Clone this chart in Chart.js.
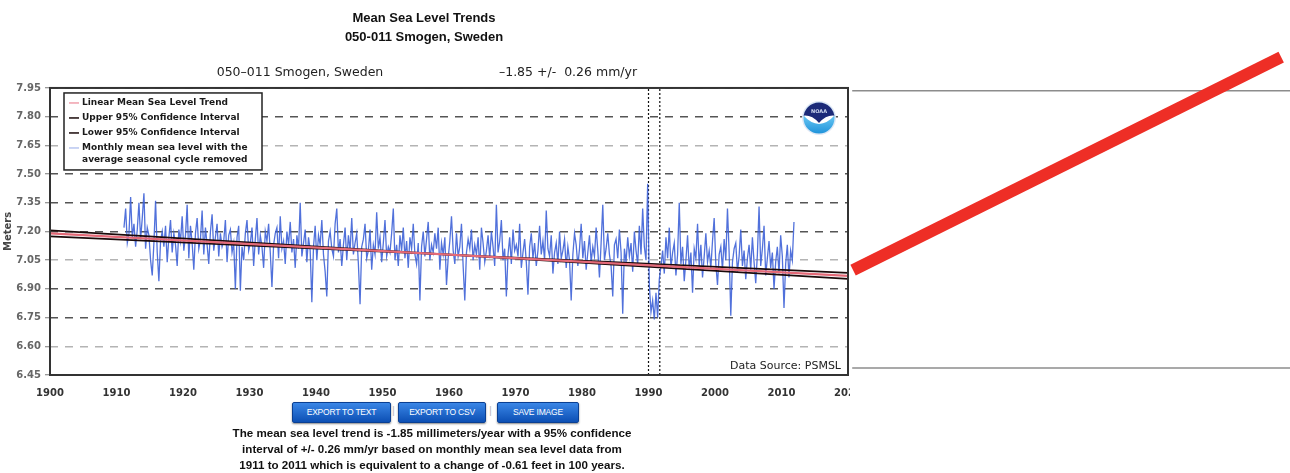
<!DOCTYPE html>
<html>
<head>
<meta charset="utf-8">
<title>Mean Sea Level Trends - Smogen, Sweden</title>
<script src="https://cdn.jsdelivr.net/npm/chart.js@4.4.0/dist/chart.umd.min.js"></script>
<style>
  body { margin: 0; background: #fff; width: 1290px; height: 473px; overflow: hidden; position: relative;
         font-family: "Liberation Sans", Arial, sans-serif; }
  #main { position: absolute; left: 0; top: 0; }
  #arrow { position: absolute; left: 850px; top: 0; background: #fff; }
  .btn { position: absolute; top: 402px; height: 19px; line-height: 19px; color: #fff; font-size: 8.5px;
         text-align: center; background: linear-gradient(#3a86e6, #0c4fb4); border: 1px solid #0a3f92;
         border-radius: 2px; box-shadow: 0 1px 2px #888; letter-spacing: -0.2px; }
  .sep { position: absolute; top: 404px; color: #bbb; font-size: 11px; }
  #note { position: absolute; top: 425px; left: 0; width: 864px; text-align: center; font-weight: bold;
          font-size: 11.6px; line-height: 16px; color: #111; }
</style>
</head>
<body>
<canvas id="main" width="870" height="400"></canvas>
<canvas id="arrow" width="440" height="473"></canvas>

<div class="btn" style="left:292px;width:97px">EXPORT TO TEXT</div>
<div class="sep" style="left:392px">|</div>
<div class="btn" style="left:398px;width:86px">EXPORT TO CSV</div>
<div class="sep" style="left:489px">|</div>
<div class="btn" style="left:497px;width:80px">SAVE IMAGE</div>
<div id="note">The mean sea level trend is -1.85 millimeters/year with a 95% confidence<br>
interval of +/- 0.26 mm/yr based on monthly mean sea level data from<br>
1911 to 2011 which is equivalent to a change of -0.61 feet in 100 years.</div>

<script>
// axis ticks
const yearTicks = [1900, 1910, 1920, 1930, 1940, 1950, 1960, 1970, 1980, 1990, 2000, 2010, 2020];
const meterTicks = [6.45, 6.60, 6.75, 6.90, 7.05, 7.20, 7.35, 7.50, 7.65, 7.80, 7.95];

// linear trend and 95% confidence lines (end points)
const trendYears = [1900, 2020];
const trendLevel = [7.190, 6.968];
const upperLevel = [7.174, 6.984];
const lowerLevel = [7.206, 6.952];

// datum / gap markers
const markerYears = [1990, 1991.7];

// sea level, 4 readings per year from 1911
const seriesStart = 1911;
const perYear = 4;
const seaLevel = [
  7.22, 7.32, 7.14, 7.19,  7.38, 7.17, 7.24, 7.12,  7.21, 7.35, 7.16, 7.27,  7.40, 7.11, 7.22, 7.18,  7.05, 6.97, 7.14, 7.36,
  7.09, 6.94, 7.15, 7.20,  7.12, 7.23, 7.04, 7.17,  7.26, 7.09, 7.19, 7.13,  7.02, 7.21, 7.15, 7.28,  7.10, 7.18, 7.34, 7.06,
  7.23, 7.14, 7.00, 7.19,  7.27, 7.11, 7.16, 7.31,  7.08, 7.22, 7.13, 7.03,  7.20, 7.29, 7.10, 7.17,  7.24, 7.07, 7.19, 7.12,
  7.15, 7.26, 7.04, 7.18,  7.21, 7.09, 7.14, 6.90,  7.17, 7.23, 6.89, 7.12,  7.05, 7.19, 7.26, 7.10,  7.14, 7.22, 7.02, 7.16,
  7.27, 7.08, 7.18, 7.12,  7.01, 7.20, 7.15, 7.24,  7.09, 6.91, 7.13, 7.19,  7.22, 7.06, 7.28, 7.11,  7.15, 7.03, 7.20, 7.13,
  7.25, 7.09, 7.16, 7.01,  7.18, 7.11, 7.35, 7.07,  7.14, 7.21, 7.04, 7.17,  7.10, 6.83, 7.12, 7.23,  7.05, 7.18, 7.13, 7.26,
  7.08, 6.99, 6.86, 7.15,  7.20, 7.11, 7.07, 7.24,  7.32, 7.09, 7.16, 7.02,  7.13, 7.22, 7.05, 7.18,  7.10, 7.27, 7.08, 7.14,
  7.19, 7.03, 6.82, 7.12,  7.16, 7.24, 7.06, 7.10,  7.21, 7.00, 7.13, 7.08,  7.30, 7.11, 7.17, 7.04,  7.14, 7.26, 7.07, 7.12,
  7.09, 7.19, 7.32, 7.05,  7.13, 7.02, 7.18, 7.10,  7.22, 7.06, 7.15, 7.01,  7.17, 7.11, 7.24, 7.08,  7.03, 7.14, 6.84, 7.12,
  7.20, 7.07, 7.16, 7.25,  7.05, 7.13, 7.09, 7.19,  7.11, 7.22, 7.00, 7.14,  7.08, 7.17, 6.92, 7.06,  7.15, 7.28, 7.10, 7.03,
  7.19, 7.07, 7.12, 7.24,  7.02, 6.84, 7.09, 7.16,  7.11, 7.21, 7.05, 7.13,  7.08, 7.17, 7.00, 7.22,  7.14, 7.04, 7.10, 7.18,
  7.06, 7.20, 7.12, 7.02,  7.34, 7.09, 7.15, 7.26,  7.05, 7.11, 6.86, 7.08,  7.17, 7.03, 7.21, 7.10,  7.13, 7.07, 7.24, 7.01,
  7.09, 7.16, 7.04, 6.87,  7.12, 7.19, 7.06, 7.14,  7.02, 7.10, 7.23, 7.08,  7.15, 7.05, 7.31, 7.11,  7.07, 7.18, 6.98, 7.09,
  7.14, 7.03, 7.20, 7.06,  7.10, 7.16, 7.01, 7.12,  7.05, 6.84, 7.08, 7.19,  7.13, 7.02, 7.11, 7.24,  7.06, 7.15, 7.00, 7.09,
  7.18, 7.04, 7.12, 7.07,  7.22, 7.10, 6.96, 7.14,  7.34, 7.05, 7.11, 7.19,  7.08, 7.02, 6.86, 7.13,  7.16, 7.06, 7.21, 7.09,
  6.77, 7.11, 7.04, 7.17,  7.07, 7.14, 6.99, 7.20,  7.10, 7.03, 7.23, 7.08,  7.32, 7.12, 7.05, 7.45,  6.92, 6.78, 6.84, 6.74,
  6.88, 6.75, 6.95, 7.02,  7.10, 6.98, 7.17, 7.06,  7.22, 7.01, 7.09, 7.14,  6.97, 7.08, 7.35, 7.03,  7.12, 6.94, 7.05, 7.18,
  7.00, 7.09, 6.88, 7.11,  7.06, 7.24, 7.02, 7.13,  6.96, 7.07, 7.19, 7.04,  7.10, 7.01, 7.15, 7.27,  7.03, 6.92, 7.08, 7.12,
  7.00, 7.16, 7.05, 7.32,  7.09, 6.76, 7.04, 7.11,  7.14, 6.99, 7.07, 7.21,  7.02, 7.10, 6.95, 7.06,  7.13, 7.00, 7.17, 7.04,
  6.93, 7.08, 7.33, 7.02,  7.11, 7.23, 6.97, 7.06,  7.15, 7.01, 7.09, 6.90,  7.04, 7.12, 6.98, 7.18,  7.07, 6.80, 7.03, 7.13,
  6.96, 7.10, 7.05, 7.25
];

// red line pasted over the right side (0..1 on both axes)
const arrowX = [0.007, 0.98];
const arrowY = [0.429, 0.879];
const ruleX = [0.005, 1];
const ruleLevels = [0.808, 0.222];

const pts = (xs, ys) => xs.map((x, i) => ({ x: x, y: ys[i] }));

const tickFont = { family: '"DejaVu Sans", sans-serif', size: 10, weight: 'bold' };

const boxLegend = {
  id: 'boxLegend',
  afterDraw(chart) {
    const { ctx, chartArea } = chart;
    const x = chartArea.left + 14, y = chartArea.top + 5, w = 198, h = 77;
    ctx.save();
    ctx.fillStyle = '#fff';
    ctx.fillRect(x, y, w, h);
    ctx.strokeStyle = '#222';
    ctx.lineWidth = 1.5;
    ctx.strokeRect(x, y, w, h);
    ctx.font = 'bold 9px "DejaVu Sans", sans-serif';
    ctx.textBaseline = 'middle';
    let row = y + 10;
    chart.data.datasets.forEach(ds => {
      if (!ds.legendText) return;
      ctx.strokeStyle = ds.legendColor || ds.borderColor;
      ctx.lineWidth = 1.5;
      ctx.beginPath();
      ctx.moveTo(x + 5, row);
      ctx.lineTo(x + 15, row);
      ctx.stroke();
      ctx.fillStyle = '#1a1a1a';
      if (ds.legendText.length === 1) {
        ctx.textAlign = 'left';
        ctx.fillText(ds.legendText[0], x + 18, row);
        row += 15;
      } else {
        const mid = x + 18 + ctx.measureText(ds.legendText[0]).width / 2;
        ctx.textAlign = 'center';
        ds.legendText.forEach((t, i) => ctx.fillText(t, mid, row + i * 11.5));
        row += 15 + 11.5 * (ds.legendText.length - 1);
      }
    });
    ctx.restore();
  }
};

const decorations = {
  id: 'decorations',
  afterDraw(chart) {
    const { ctx, chartArea } = chart;
    ctx.save();
    // frame
    ctx.strokeStyle = '#333';
    ctx.lineWidth = 2;
    ctx.strokeRect(chartArea.left, chartArea.top, chartArea.width, chartArea.height);

    // station line above the plot
    ctx.fillStyle = '#222';
    ctx.font = '12.5px "DejaVu Sans", sans-serif';
    ctx.textAlign = 'center';
    ctx.textBaseline = 'middle';
    ctx.fillText('050\u2013011 Smogen, Sweden', chartArea.left + 250, 73);
    ctx.fillText('\u20131.85 +/-  0.26 mm/yr', chartArea.left + 518, 73);

    // data source
    ctx.font = '11px "DejaVu Sans", sans-serif';
    ctx.textAlign = 'right';
    ctx.textBaseline = 'alphabetic';
    ctx.fillText('Data Source: PSMSL', chartArea.right - 7, chartArea.bottom - 6);

    // NOAA logo
    const cx = chartArea.right - 29, cy = chartArea.top + 30, r = 17;
    ctx.beginPath();
    ctx.arc(cx, cy, r, 0, Math.PI * 2);
    ctx.fillStyle = '#dfe8f5';
    ctx.fill();
    ctx.beginPath();
    ctx.arc(cx, cy, r - 1.5, 0, Math.PI * 2);
    ctx.save();
    ctx.clip();
    const g = ctx.createLinearGradient(0, cy, 0, cy + r);
    g.addColorStop(0, '#5fc0f0');
    g.addColorStop(1, '#1a8fd8');
    ctx.fillStyle = g;
    ctx.fillRect(cx - r, cy - r, 2 * r, 2 * r);
    ctx.fillStyle = '#fff';
    ctx.beginPath();
    ctx.moveTo(cx - r, cy - 4);
    ctx.quadraticCurveTo(cx, cy + 16, cx + r, cy - 4);
    ctx.lineTo(cx + r, cy - r);
    ctx.lineTo(cx - r, cy - r);
    ctx.closePath();
    ctx.fill();
    ctx.fillStyle = '#1c2a78';
    ctx.beginPath();
    ctx.moveTo(cx - r, cy - 2);
    ctx.quadraticCurveTo(cx - 8, cy - 4, cx, cy + 5);
    ctx.quadraticCurveTo(cx + 8, cy - 4, cx + r, cy - 2);
    ctx.lineTo(cx + r, cy - r);
    ctx.lineTo(cx - r, cy - r);
    ctx.closePath();
    ctx.fill();
    ctx.fillStyle = '#cfd8ee';
    ctx.font = 'bold 5px "DejaVu Sans", sans-serif';
    ctx.textAlign = 'center';
    ctx.fillText('NOAA', cx, cy - 5);
    ctx.restore();
    ctx.restore();
  }
};

new Chart(document.getElementById('main'), {
  type: 'line',
  data: {
    datasets: [
      { data: pts(trendYears, trendLevel), borderColor: '#e46a78', borderWidth: 2.2, pointRadius: 0,
        legendText: ['Linear Mean Sea Level Trend'], legendColor: '#f0a0ac' },
      { data: pts(trendYears, upperLevel), borderColor: '#1a0a0a', borderWidth: 1.8, pointRadius: 0,
        legendText: ['Upper 95% Confidence Interval'] },
      { data: pts(trendYears, lowerLevel), borderColor: '#1a0a0a', borderWidth: 1.8, pointRadius: 0,
        legendText: ['Lower 95% Confidence Interval'] },
      { data: seaLevel.map((v, i) => ({ x: seriesStart + i / perYear + 0.125, y: v })),
        borderColor: 'rgba(62, 98, 215, 0.9)', borderWidth: 1.3, pointRadius: 0, tension: 0,
        legendText: ['Monthly mean sea level with the', 'average seasonal cycle removed'], legendColor: '#b8c6f0' },
      { data: pts([markerYears[0], markerYears[0]], [meterTicks[0], meterTicks[meterTicks.length - 1]]),
        borderColor: '#111', borderWidth: 1.2, borderDash: [2, 2], pointRadius: 0 },
      { data: pts([markerYears[1], markerYears[1]], [meterTicks[0], meterTicks[meterTicks.length - 1]]),
        borderColor: '#111', borderWidth: 1.2, borderDash: [2, 2], pointRadius: 0 }
    ]
  },
  options: {
    responsive: false,
    animation: false,
    devicePixelRatio: 1,
    layout: { padding: { left: 0, right: 22, top: 0, bottom: 0 } },
    plugins: {
      legend: { display: false },
      tooltip: { enabled: false },
      title: {
        display: true,
        text: ['Mean Sea Level Trends', '050-011 Smogen, Sweden'],
        color: '#111',
        font: { family: '"Liberation Sans", Arial, sans-serif', size: 13, weight: 'bold', lineHeight: 1.46 },
        padding: { top: 9, bottom: 41 }
      }
    },
    scales: {
      x: {
        type: 'linear',
        min: yearTicks[0],
        max: yearTicks[yearTicks.length - 1],
        afterBuildTicks: s => { s.ticks = yearTicks.map(v => ({ value: v })); },
        afterFit: s => { s.height = 25; },
        ticks: { callback: v => String(v), color: '#333', font: tickFont, padding: 4, maxRotation: 0, autoSkip: false },
        grid: { display: false },
        border: { display: false }
      },
      y: {
        min: meterTicks[0],
        max: meterTicks[meterTicks.length - 1],
        afterBuildTicks: s => { s.ticks = meterTicks.map(v => ({ value: v })); },
        afterFit: s => { s.width = 50; },
        ticks: { callback: v => v.toFixed(2), color: '#666', font: tickFont, padding: 4, autoSkip: false },
        title: { display: true, text: 'Meters', color: '#444',
                 font: { family: '"DejaVu Sans", sans-serif', size: 10, weight: 'bold' }, padding: { top: 2, bottom: 0 } },
        grid: {
          color: c => [1, 4, 8].includes(c.index) ? '#b4b4b4' : '#555',
          lineWidth: 1.5,
          drawTicks: true,
          tickLength: 5,
          tickColor: '#777',
          tickWidth: 1
        },
        border: { display: false, dash: [8, 7] }
      }
    }
  },
  plugins: [boxLegend, decorations]
});

new Chart(document.getElementById('arrow'), {
  type: 'line',
  data: {
    datasets: [
      { data: pts(arrowX, arrowY), borderColor: '#ee2e26', borderWidth: 12, pointRadius: 0 },
      { data: pts(ruleX, [ruleLevels[0], ruleLevels[0]]), borderColor: '#8c8c8c', borderWidth: 1.5, pointRadius: 0 },
      { data: pts(ruleX, [ruleLevels[1], ruleLevels[1]]), borderColor: '#8c8c8c', borderWidth: 1.5, pointRadius: 0 }
    ]
  },
  options: {
    responsive: false,
    animation: false,
    devicePixelRatio: 1,
    layout: { padding: 0 },
    plugins: { legend: { display: false }, tooltip: { enabled: false } },
    scales: {
      x: { type: 'linear', min: 0, max: 1, display: false },
      y: { min: 0, max: 1, display: false }
    }
  }
});
</script>
</body>
</html>
